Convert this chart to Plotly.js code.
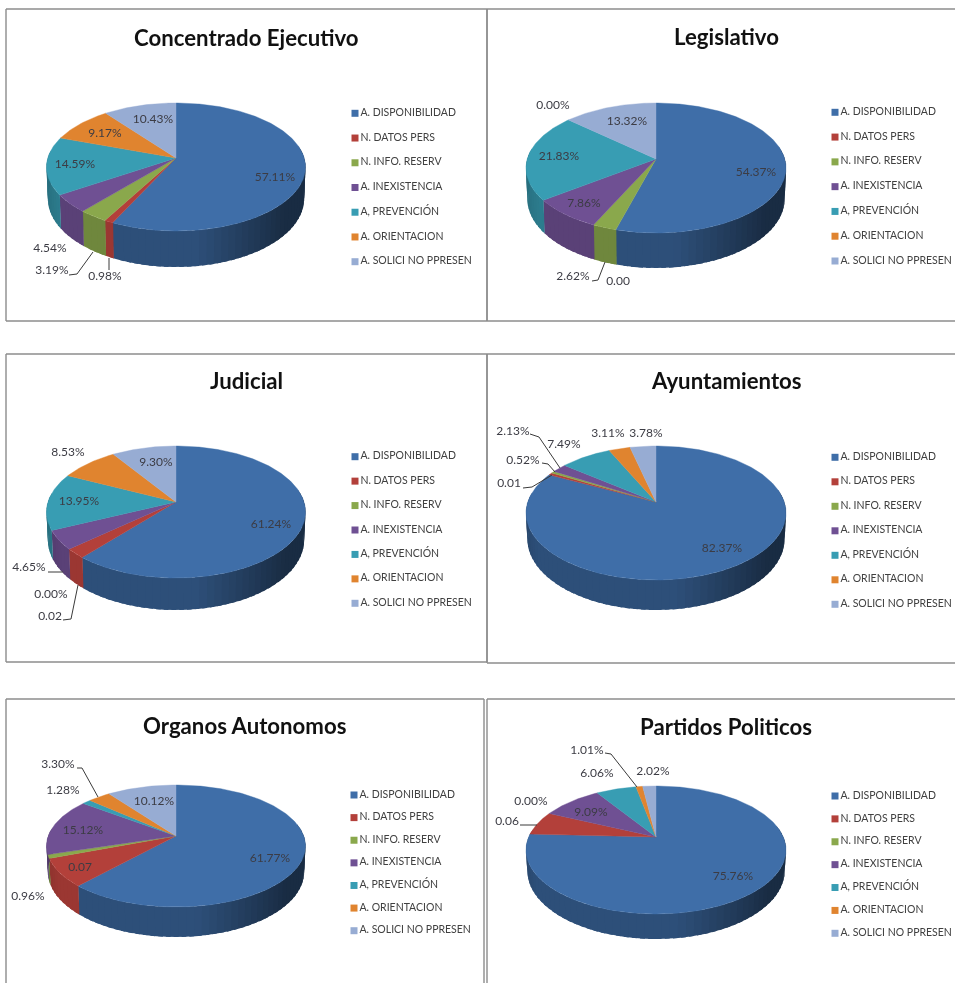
<!DOCTYPE html>
<html><head><meta charset="utf-8">
<script src="https://cdn.plot.ly/plotly-3.0.0.min.js"></script>
<style>html,body{margin:0;padding:0;background:#fff}#c{width:955px;height:983px;filter:blur(0.45px)}</style>
</head><body><div id="c"></div>
<script>
// ---------- data ----------
const categories = ['A. DISPONIBILIDAD','N. DATOS PERS','N. INFO. RESERV','A. INEXISTENCIA','A, PREVENCIÓN','A. ORIENTACION','A. SOLICI NO PPRESEN'];
const titles = ['Concentrado Ejecutivo','Legislativo','Judicial','Ayuntamientos','Organos Autonomos','Partidos Politicos'];
const valuesEjecutivo = [57.11,0.98,3.19,4.54,14.59,9.17,10.43];
const valuesLegislativo = [54.37,0,2.62,7.86,21.83,0,13.32];
const valuesJudicial = [61.24,2.33,0,4.65,13.95,8.53,9.30];
const valuesAyuntamientos = [82.37,0.60,0.52,2.13,7.49,3.11,3.78];
const valuesOrganos = [61.77,7.45,0.96,15.12,1.28,3.30,10.12];
const valuesPartidos = [75.76,6.06,0,9.09,6.06,1.01,2.02];
const textEjecutivo = ['57.11%','0.98%','3.19%','4.54%','14.59%','9.17%','10.43%'];
const textLegislativo = ['54.37%','0.00','2.62%','7.86%','21.83%','0.00%','13.32%'];
const textJudicial = ['61.24%','0.02','0.00%','4.65%','13.95%','8.53%','9.30%'];
const textAyuntamientos = ['82.37%','0.01','0.52%','2.13%','7.49%','3.11%','3.78%'];
const textOrganos = ['61.77%','0.07','0.96%','15.12%','1.28%','3.30%','10.12%'];
const textPartidos = ['75.76%','0.06','0.00%','9.09%','6.06%','1.01%','2.02%'];
const allValues = [valuesEjecutivo,valuesLegislativo,valuesJudicial,valuesAyuntamientos,valuesOrganos,valuesPartidos];
const allText = [textEjecutivo,textLegislativo,textJudicial,textAyuntamientos,textOrganos,textPartidos];

// ---------- styling and layout ----------
const topColors = ['#3f6ea8','#b3403a','#8aa84c','#6f5093','#389db3','#e0842f','#97acd3'];
const wallScale = [1,1.2,1.12,1.12,1.1,1.05,1];
const FONT = 'Lato, "Open Sans", sans-serif';
// panel frame in page pixels
const panels = [[6,487,9,321],[487,955,9,321],[6,487,354,662],[487,955,354,663],[6,484,699,983],[487,955,699,983]];
// pie geometry: centre x, centre y, back edge, front edge, base edge, half width
const pieGeom = [
 [176,158,103,231,267,129.5],[656,159,103,233,268,130],[176,502,446,578,610,129.5],
 [656,502,446,580,610,130],[176,836,785,907,937,129.5],[656,837,786,914,939,130]];
const titlePos = [[246,37],[726,36],[246,381],[726,381],[245,725],[726,726]];
const legendX = [355,835,355,835,354,835];
const legendY = [[113.3,261.7],[112.3,261],[456.7,603.3],[457.3,604.3],[795,930.7],[796,933.3]];
const labelPos = [
 [[275,178],[105,277],[52,271],[50,249],[75,165],[105,134],[153,120]],
 [[756,173],[618,282],[573,277],[584,204],[559,157],[553,106],[627,122]],
 [[271,525],[50,617],[51,595],[29,568],[79,502],[68,453],[156,463]],
 [[722,549],[509,484],[523,461],[513,432],[564,445],[608,434],[646,434]],
 [[270,859],[80,868],[28,897],[83,831],[63,791],[58,765],[154,802]],
 [[733,877],[507,822],[531,802],[591,813],[597,774],[587,751],[653,772]]];
const leaders = [
 [[[69,275],[77,274],[93,252]],[[109,258],[109,270]]],
 [[[592,281],[598,280],[605,262]]],
 [[[48,572],[63,572]],[[63,620],[71,619],[78,585]]],
 [[[530,434],[539,437],[560,468]],[[542,463],[548,464],[555,472]],[[523,488],[532,487],[552,475]]],
 [[[77,768],[82,768],[98,797]]],
 [[[520,825],[537,825]],[[605,753],[611,754],[637,787]]]];

function shade(hex,f){
  const n=parseInt(hex.slice(1),16);
  const c=[n>>16&255,n>>8&255,n&255].map(v=>Math.min(255,Math.round(v*f)));
  return 'rgb('+c.join(',')+')';
}
function wallFactor(t){ // t = -1 left ... 1 right
  if(t<-0.85) return 0.64+(t+1)/0.15*0.08;
  if(t<0.1) return 0.72;
  if(t<0.75) return 0.72-((t-0.1)/0.65)*0.32;
  return 0.40;
}
const traces=[], shapes=[], layout={
  width:955,height:983,margin:{l:0,r:0,t:0,b:0},paper_bgcolor:'#fff',plot_bgcolor:'#fff',
  showlegend:false,hovermode:'closest',annotations:[]};

panels.forEach((p,i)=>{
  const n=i+1, xa='x'+(n===1?'':n), ya='y'+(n===1?'':n);
  layout['xaxis'+(n===1?'':n)]={domain:[p[0]/955,p[1]/955],range:[p[0],p[1]],visible:false,fixedrange:true};
  layout['yaxis'+(n===1?'':n)]={domain:[1-p[3]/983,1-p[2]/983],range:[p[3],p[2]],visible:false,fixedrange:true};
  const [cx,cy,back,front,base,hw]=pieGeom[i];
  const B=cy-back,F=front-cy,k=(F-B)/(F+B),A=B*(1+k),R=hw*Math.sqrt(1-k*k),D=(base-front)*(1-k);
  const px=(th)=>{const X=Math.sin(th),Y=-Math.cos(th),s=1/(1-k*Y);return [cx+R*s*X,cy+A*s*Y,s];};
  const vals=allValues[i], total=vals.reduce((a,b)=>a+b,0);
  let cum=0; const tops=[];
  const dStrip=3*Math.PI/180;
  vals.forEach((v,j)=>{
    const a0=cum/total*2*Math.PI, a1=(cum+v)/total*2*Math.PI; cum+=v;
    if(v<=0){tops.push(null);return;}
    const stepsTop=Math.max(2,Math.ceil((a1-a0)/(Math.PI/180)));
    const xs=[cx],ys=[cy];
    for(let q=0;q<=stepsTop;q++){const t=px(a0+(a1-a0)*q/stepsTop);xs.push(t[0]);ys.push(t[1]);}
    xs.push(cx);ys.push(cy);
    tops.push({x:xs,y:ys,j});
    const nS=Math.max(1,Math.ceil((a1-a0)/dStrip));
    for(let q=0;q<nS;q++){
      const b0=a0+(a1-a0)*q/nS,b1=a0+(a1-a0)*(q+1)/nS,mid=(b0+b1)/2;
      if(-Math.cos(mid)<-0.15) continue;
      // reach back over the previous strip so no seam shows between neighbours
      const bStart=Math.max(a0-0.004,b0-dStrip*0.6);
      const wx=[],wy=[];
      for(const b of [bStart,(bStart+b1)/2,b1]){const t=px(b);wx.push(t[0]);wy.push(t[1]);}
      for(const b of [b1,(bStart+b1)/2,bStart]){const t=px(b);wx.push(cx+(t[0]-cx)*0.99);wy.push(t[1]+D*t[2]);}
      wx.push(wx[0]);wy.push(wy[0]);
      const col=shade(topColors[j],wallFactor(Math.sin(mid))*wallScale[j]);
      traces.push({type:'scatter',mode:'lines',x:wx,y:wy,xaxis:xa,yaxis:ya,fill:'toself',fillcolor:col,
        line:{color:col,width:0},hoverinfo:'skip',showlegend:false});
    }
  });
  tops.forEach(t=>{ if(!t) return;
    traces.push({type:'scatter',mode:'lines',x:t.x,y:t.y,xaxis:xa,yaxis:ya,fill:'toself',fillcolor:topColors[t.j],
      line:{color:topColors[t.j],width:0.4},name:categories[t.j],text:allText[i][t.j],hoverinfo:'name+text',showlegend:false});
  });
  leaders[i].forEach(l=>traces.push({type:'scatter',mode:'lines',x:l.map(q=>q[0]),y:l.map(q=>q[1]),xaxis:xa,yaxis:ya,
    line:{color:'#3a3a3a',width:1},hoverinfo:'skip',showlegend:false,cliponaxis:false}));
  traces.push({type:'scatter',mode:'text',x:labelPos[i].map(q=>q[0]),y:labelPos[i].map(q=>q[1]),xaxis:xa,yaxis:ya,
    text:allText[i],textposition:'middle center',textfont:{family:FONT,size:12,color:'#3c3c44'},hoverinfo:'skip',showlegend:false,cliponaxis:false});
  categories.forEach((c,j)=>{
    const yy=legendY[i][0]+(legendY[i][1]-legendY[i][0])*j/6;
    traces.push({type:'scatter',mode:'markers+text',x:[legendX[i]],y:[yy],xaxis:xa,yaxis:ya,text:[c],name:c,
      textposition:'middle right',textfont:{family:FONT,size:10.5,color:'#404040'},
      marker:{symbol:'square',size:7,color:topColors[j]},hoverinfo:'name',showlegend:false,cliponaxis:false});
  });
  layout.annotations.push({xref:xa,yref:ya,x:titlePos[i][0],y:titlePos[i][1],text:'<b>'+titles[i]+'</b>',showarrow:false,
    xanchor:'center',yanchor:'middle',font:{family:FONT,size:22.2,color:'#111'}});
  const line={color:'#8c8c8c',width:1.4};
  const seg=(x0,y0,x1,y1)=>shapes.push({type:'line',xref:'paper',yref:'paper',x0:x0/955,x1:x1/955,y0:1-y0/983,y1:1-y1/983,line});
  seg(p[0],p[2],p[1],p[2]);
  seg(p[0],p[2],p[0],p[3]);
  if(p[3]<983) seg(p[0],p[3],p[1],p[3]);
  if(p[1]<955) seg(p[1],p[2],p[1],p[3]);
});
layout.shapes=shapes;
Plotly.newPlot('c',traces,layout,{staticPlot:true,displayModeBar:false});
</script></body></html>
